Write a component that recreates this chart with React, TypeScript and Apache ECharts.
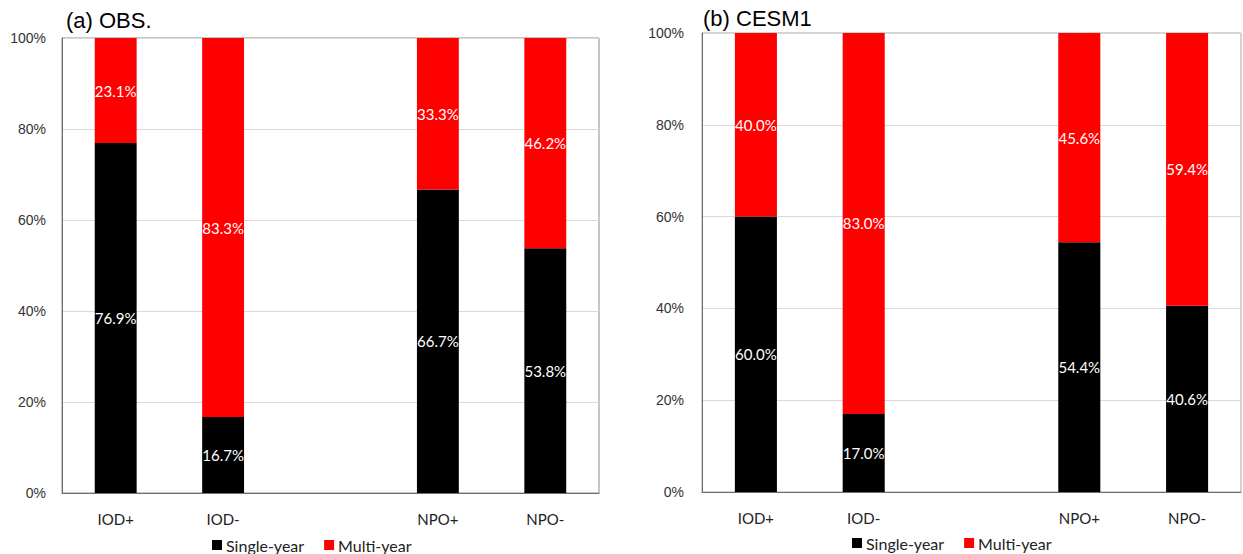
import React, { useEffect, useRef } from "react";
import * as echarts from "echarts";

// Event categories (the empty slot separates the IOD and NPO groups)
const categories = ["IOD+", "IOD-", "", "NPO+", "NPO-"];
const yTicks = [0, 20, 40, 60, 80, 100];

// Percentages of single-year vs multi-year events
const obsSingle = [76.9, 16.7, null, 66.7, 53.8];
const obsMulti = [23.1, 83.3, null, 33.3, 46.2];
const cesmSingle = [60.0, 17.0, null, 54.4, 40.6];
const cesmMulti = [40.0, 83.0, null, 45.6, 59.4];

const panelTitles = ["(a) OBS.", "(b) CESM1"];
const seriesNames = ["Single-year", "Multi-year"];

const LABEL_FONT = "Lato, 'Open Sans', sans-serif";
const TITLE_FONT = "'Liberation Sans', Arial, sans-serif";

export default function App() {
  const ref = useRef<HTMLDivElement>(null);

  useEffect(() => {
    document.body.style.margin = "0";
    if (!ref.current) return;
    const chart = echarts.init(ref.current, null, { renderer: "svg" });

    const barLabel = {
      show: true,
      position: "inside",
      color: "#ffffff",
      fontFamily: LABEL_FONT,
      fontSize: 15,
      formatter: (p: any) => (p.value == null ? "" : `${Number(p.value).toFixed(1)}%`),
    };

    const makeSeries = (name: string, data: (number | null)[], idx: number, color: string, stack: string) => ({
      name,
      type: "bar",
      xAxisIndex: idx,
      yAxisIndex: idx,
      stack,
      data,
      barWidth: "39%",
      itemStyle: { color },
      label: barLabel,
    });

    const xAxisFor = (gridIndex: number) => ({
      type: "category",
      gridIndex,
      data: categories,
      axisLine: { show: true, lineStyle: { color: "#6e6e6e", width: 1 } },
      axisTick: { show: false },
      axisLabel: { color: "#222", fontFamily: LABEL_FONT, fontSize: 15, margin: 18 },
    });

    const yAxisFor = (gridIndex: number, margin: number) => ({
      type: "value",
      gridIndex,
      min: yTicks[0],
      max: yTicks[yTicks.length - 1],
      interval: yTicks[1] - yTicks[0],
      axisLine: { show: true, lineStyle: { color: "#6e6e6e", width: 1 } },
      axisTick: { show: false },
      splitLine: { show: true, lineStyle: { color: "#d9d9d9", width: 1 } },
      axisLabel: {
        color: "#333",
        fontFamily: TITLE_FONT,
        fontSize: 14,
        margin,
        formatter: "{value}%",
      },
    });

    const legendFor = (left: number, top: number) => ({
      left,
      top,
      data: seriesNames,
      icon: "rect",
      itemWidth: 10,
      itemHeight: 10,
      itemGap: 20,
      padding: 0,
      textStyle: { fontFamily: LABEL_FONT, fontSize: 16, lineHeight: 16, color: "#222", padding: [0, 0, 0, -1] },
    });

    const titleStyle = { fontFamily: TITLE_FONT, fontSize: 22, fontWeight: "normal", color: "#000" };

    chart.setOption({
      animation: false,
      backgroundColor: "#ffffff",
      title: [
        { text: panelTitles[0], left: 61, top: 4, textStyle: titleStyle },
        { text: panelTitles[1], left: 698, top: 2, textStyle: titleStyle },
      ],
      legend: [legendFor(212, 537), legendFor(852, 535)],
      grid: [
        { left: 62, top: 38, width: 537, height: 455, show: true, borderColor: "#8c8c8c", borderWidth: 1 },
        { left: 702, top: 33, width: 539, height: 459, show: true, borderColor: "#a6a6a6", borderWidth: 1 },
      ],
      xAxis: [xAxisFor(0), xAxisFor(1)],
      yAxis: [yAxisFor(0, 16), yAxisFor(1, 18)],
      series: [
        makeSeries(seriesNames[0], obsSingle, 0, "#000000", "obs"),
        makeSeries(seriesNames[1], obsMulti, 0, "#ff0000", "obs"),
        makeSeries(seriesNames[0], cesmSingle, 1, "#000000", "cesm"),
        makeSeries(seriesNames[1], cesmMulti, 1, "#ff0000", "cesm"),
      ],
    });

    return () => chart.dispose();
  }, []);

  return <div ref={ref} style={{ width: 1243, height: 554 }} />;
}
